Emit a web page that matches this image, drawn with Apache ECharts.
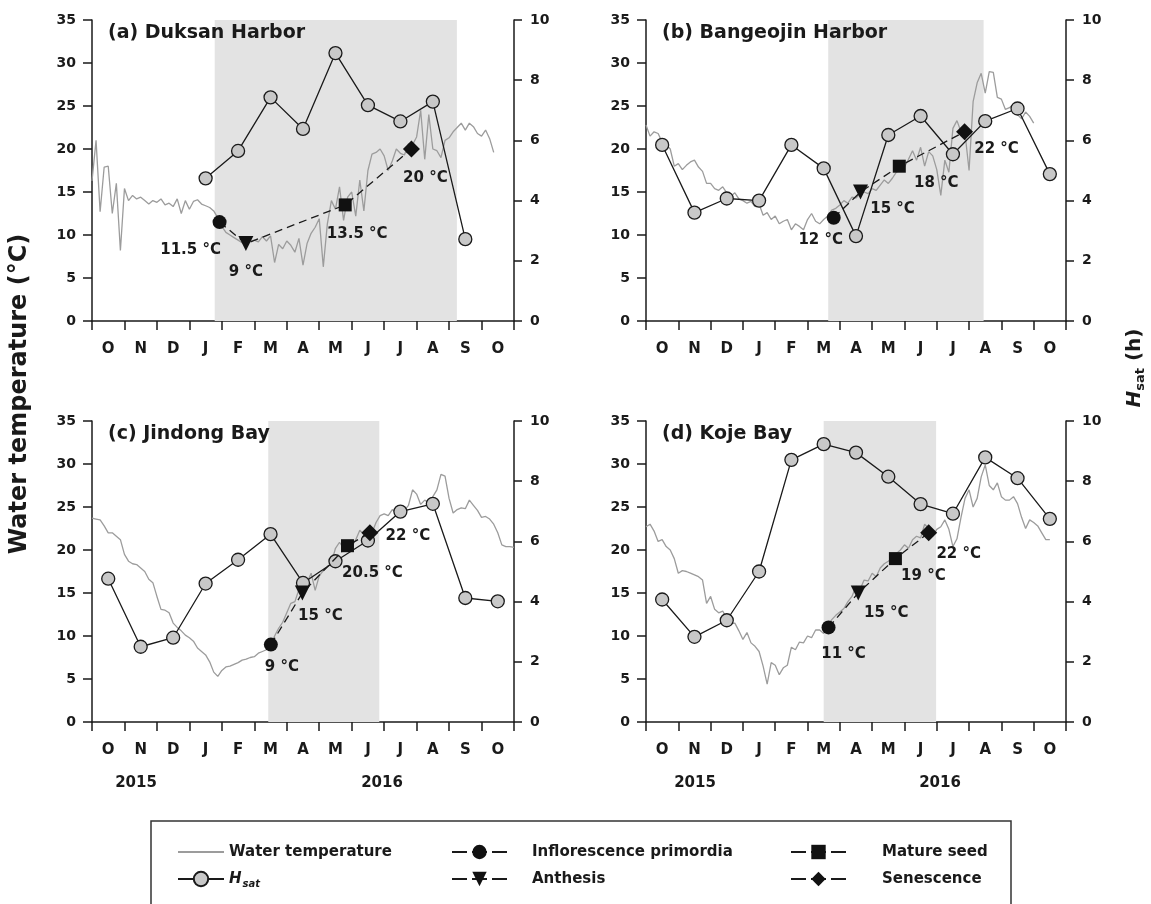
<!DOCTYPE html>
<html><head><meta charset="utf-8">
<script src="https://cdn.jsdelivr.net/npm/echarts@6/dist/echarts.min.js"></script>
<style>html,body{margin:0;padding:0;background:#fff}#c{width:1151px;height:904px}</style>
</head><body><div id="c"></div>
<script>
// ---------- DATA ----------
const months = ['O','N','D','J','F','M','A','M','J','J','A','S','O'];
const years = ['2015','2016'];
const panelTitles = ['(a) Duksan Harbor','(b) Bangeojin Harbor','(c) Jindong Bay','(d) Koje Bay'];
const tempStep = 1/8; // month fraction between successive temperature readings (from 1 Oct 2015)

const tempA = [16.3,21.0,12.7,17.9,18.0,12.5,16.0,8.2,15.4,14.0,
 14.6,14.2,14.4,14.0,13.6,14.0,13.8,14.2,13.5,13.7,
 13.3,14.2,12.5,14.0,13.0,13.9,14.1,13.6,13.4,13.2,
 12.8,12.0,11.0,10.3,10.0,9.7,9.4,9.1,9.0,9.3,
 9.4,9.2,9.8,9.3,9.9,6.8,8.9,8.4,9.3,8.8,
 8.0,9.6,6.5,9.0,10.2,10.9,11.9,6.3,11.3,14.0,
 13.0,15.6,11.7,14.4,15.0,12.2,16.4,12.8,17.5,19.4,
 19.6,20.0,19.2,17.5,18.6,20.0,19.5,19.3,20.6,20.5,
 21.4,24.5,18.8,24.0,20.0,19.8,19.0,21.0,21.3,22.0,
 22.5,23.0,22.2,23.0,22.6,21.8,21.5,22.2,21.2,19.6];
const tempB = [22.8,21.5,22.0,21.8,20.8,20.5,20.0,18.0,18.3,17.6,
 18.1,18.5,18.7,17.9,17.4,16.0,16.0,15.4,15.2,15.6,
 14.9,14.5,14.9,14.2,14.0,13.7,13.9,13.3,13.6,12.3,
 12.6,11.8,12.2,11.3,11.6,11.8,10.6,11.3,11.0,10.6,
 11.8,12.5,11.6,11.3,11.8,12.2,12.9,13.1,13.5,14.0,
 13.7,14.4,14.3,14.8,15.0,14.8,15.4,15.2,15.8,16.4,
 16.0,16.6,17.3,17.6,17.9,18.8,19.8,18.7,20.2,18.0,
 19.7,19.2,17.6,14.6,18.7,17.3,22.4,23.3,22.0,21.8,
 17.5,25.5,27.7,28.8,26.5,29.0,28.9,26.0,25.8,24.6,
 24.8,25.2,24.0,23.5,24.3,23.8,23.0];
const tempC = [23.7,23.6,23.5,22.8,22.0,22.0,21.6,21.2,19.5,18.7,
 18.4,18.3,17.9,17.5,16.6,16.2,14.6,13.1,13.0,12.7,
 11.5,11.0,10.6,10.1,9.8,9.4,8.6,8.2,7.8,7.0,
 5.8,5.3,6.0,6.4,6.5,6.7,6.9,7.2,7.3,7.5,
 7.6,8.0,8.2,8.4,8.8,10.0,10.9,11.6,12.7,13.8,
 14.0,15.4,15.8,16.2,17.3,15.3,17.0,17.6,18.0,18.5,
 20.2,20.9,20.2,20.8,20.4,21.2,22.3,21.8,21.6,22.0,
 23.2,24.0,24.2,24.0,24.7,24.3,24.8,24.6,25.2,27.0,
 26.5,25.3,25.8,25.5,26.2,27.0,28.8,28.6,26.0,24.3,
 24.7,24.9,24.8,25.8,25.2,24.6,23.8,23.9,23.6,23.0,
 22.0,20.6,20.4,20.4,20.3];
const tempD = [22.7,23.0,22.2,21.0,21.2,20.4,20.0,19.0,17.3,17.6,
 17.5,17.3,17.1,16.9,16.5,13.8,14.6,13.1,12.7,12.9,
 12.0,11.4,11.5,10.6,9.6,10.4,9.2,8.8,8.2,6.5,
 4.4,6.9,6.6,5.5,6.3,6.6,8.7,8.4,9.3,9.2,
 10.0,9.8,10.7,10.7,10.3,11.1,11.9,12.4,12.8,13.2,
 14.0,14.6,15.8,15.4,16.5,16.4,17.3,16.9,17.9,18.4,
 18.7,19.1,19.6,20.0,20.6,20.2,21.2,21.6,21.4,23.0,
 22.5,21.6,22.4,22.7,23.5,22.4,20.4,21.3,23.8,26.0,
 27.0,25.0,26.0,28.5,29.9,27.5,27.0,27.8,26.2,25.8,
 25.8,26.2,25.4,23.8,22.5,23.5,23.2,22.8,22.0,21.2,
 21.2];

// Hsat (h), one value per month (mid-month), null = no measurement
const hsatA = [null,null,null,4.74,5.65,7.43,6.38,8.90,7.17,6.63,7.29,2.72,null];
const hsatB = [5.85,3.60,4.07,4.00,5.85,5.07,2.82,6.18,6.81,5.54,6.64,7.06,4.88];
const hsatC = [4.76,2.50,2.80,4.60,5.39,6.24,4.62,5.34,6.03,6.99,7.25,4.12,4.01];
const hsatD = [4.07,2.83,3.38,5.00,8.71,9.23,8.95,8.15,7.24,6.92,8.79,8.10,6.75];

// shaded growth period (month position from 1 Oct 2015)
const shadeA = [3.78, 11.24];
const shadeB = [5.64, 10.45];
const shadeC = [5.43, 8.85];
const shadeD = [5.50, 8.98];

// phenology: inflorescence primordia, anthesis, mature seed, senescence
const phenNames = ['Inflorescence primordia','Anthesis','Mature seed','Senescence'];
const phenMonthA = [3.93, 4.74, 7.80, 9.84];
const phenTempA  = [11.5, 9, 13.5, 20];
const phenMonthB = [5.81, 6.64, 7.84, 9.86];
const phenTempB  = [12, 15, 18, 22];
const phenMonthC = [5.51, 6.48, 7.87, 8.56];
const phenTempC  = [9, 15, 20.5, 22];
const phenMonthD = [5.65, 6.57, 7.72, 8.75];
const phenTempD  = [11, 15, 19, 22];

const tempTicks = {min:0, max:35, interval:5};
const hsatTicks = {min:0, max:10, interval:2};

// ---------- LAYOUT / STYLE ----------
const FONT = 'DejaVu Sans';
const INK = '#1a1a1a';
const grids = [
  {left:92,  top:20,  width:422, height:301},
  {left:646, top:20,  width:420, height:301},
  {left:92,  top:421, width:422, height:301},
  {left:646, top:421, width:420, height:301}
];
const labelOffsets = [
  [[-29,28],[0,29],[12,29],[14,29]],
  [[-13,22],[32,17],[37,17],[32,17]],
  [[11,23],[18,23],[25,27],[38,3]],
  [[15,27],[28,20],[28,18],[30,21]]
];
const phenSymbols = [
  {symbol:'circle', size:14, rotate:0},
  {symbol:'triangle', size:15, rotate:180},
  {symbol:'rect', size:13, rotate:0},
  {symbol:'diamond', size:17, rotate:0}
];

const temps = [tempA, tempB, tempC, tempD];
const hsats = [hsatA, hsatB, hsatC, hsatD];
const shades = [shadeA, shadeB, shadeC, shadeD];
const phenMonths = [phenMonthA, phenMonthB, phenMonthC, phenMonthD];
const phenTemps = [phenTempA, phenTempB, phenTempC, phenTempD];

const axisLineStyle = {color:INK, width:1.5};
const xAxes = [], yAxes = [], series = [], titles = [];

grids.forEach((g, p) => {
  xAxes.push({
    type:'category', gridIndex:p, data:months, boundaryGap:true, position:'bottom',
    axisLine:{show:true, onZero:false, lineStyle:axisLineStyle},
    axisTick:{show:true, interval:0, length:9, inside:false, lineStyle:axisLineStyle},
    axisLabel:{interval:0, margin:21, fontSize:15, fontWeight:'bold', fontFamily:FONT, color:INK},
    splitLine:{show:false}
  });
  xAxes.push({type:'value', gridIndex:p, min:0, max:13, show:false});
  yAxes.push({
    type:'value', gridIndex:p, position:'left', min:tempTicks.min, max:tempTicks.max, interval:tempTicks.interval,
    axisLine:{show:true, onZero:false, lineStyle:axisLineStyle},
    axisTick:{show:true, length:9, inside:false, lineStyle:axisLineStyle},
    axisLabel:{margin:16, fontSize:14, fontWeight:'bold', fontFamily:FONT, color:INK},
    splitLine:{show:false}
  });
  yAxes.push({
    type:'value', gridIndex:p, position:'right', min:hsatTicks.min, max:hsatTicks.max, interval:hsatTicks.interval,
    axisLine:{show:true, onZero:false, lineStyle:axisLineStyle},
    axisTick:{show:true, length:8, inside:false, lineStyle:axisLineStyle},
    axisLabel:{margin:16, fontSize:14, fontWeight:'bold', fontFamily:FONT, color:INK},
    splitLine:{show:false}
  });
  titles.push({
    text:panelTitles[p], left:g.left+16, top:g.top+4, padding:0,
    textStyle:{fontSize:19, fontWeight:'bold', fontFamily:FONT, color:INK}
  });

  const xi = 2*p+1, yl = 2*p, yr = 2*p+1;
  // shaded period
  series.push({
    type:'line', xAxisIndex:xi, yAxisIndex:yl, data:[], silent:true, z:1,
    markArea:{silent:true, itemStyle:{color:'#e3e3e3'},
      data:[[{xAxis:shades[p][0], yAxis:tempTicks.min},{xAxis:shades[p][1], yAxis:tempTicks.max}]]}
  });
  // water temperature
  series.push({
    name:'Water temperature', type:'line', xAxisIndex:xi, yAxisIndex:yl, z:2,
    data: temps[p].map((v,i) => [i*tempStep, v]),
    symbol:'none', lineStyle:{color:'#9c9c9c', width:1.3}, itemStyle:{color:'#9c9c9c'}
  });
  // Hsat
  const hd = [];
  hsats[p].forEach((v,i) => { if (v !== null) hd.push([i+0.5, v]); });
  series.push({
    name:'Hsat', type:'line', xAxisIndex:xi, yAxisIndex:yr, z:3, data:hd,
    symbol:'circle', symbolSize:13, showAllSymbol:true,
    lineStyle:{color:INK, width:1.3},
    itemStyle:{color:'#c8c8c8', borderColor:INK, borderWidth:1.3}
  });
  // dashed phenology connector
  series.push({
    name:'phenology', type:'line', xAxisIndex:xi, yAxisIndex:yl, z:4,
    data: phenMonths[p].map((m,i) => [m, phenTemps[p][i]]),
    symbol:'none', lineStyle:{color:INK, width:1.3, type:[8,5]}
  });
  // phenology markers
  phenNames.forEach((nm, k) => {
    const sy = phenSymbols[k];
    const t = phenTemps[p][k];
    series.push({
      name:nm, type:'line', xAxisIndex:xi, yAxisIndex:yl, z:5,
      symbol:sy.symbol, symbolSize:sy.size, symbolRotate:sy.rotate,
      lineStyle:{color:INK, width:1.5, type:[15,5]},
      itemStyle:{color:'#111'},
      data:[{
        value:[phenMonths[p][k], t],
        label:{show:true, position:'inside', offset:labelOffsets[p][k],
          formatter: t + ' °C', fontSize:15, fontWeight:'bold', fontFamily:FONT, color:INK}
      }]
    });
  });
});

const legendText = {fontSize:15, fontWeight:'bold', fontFamily:FONT, color:INK, lineHeight:18,
  rich:{
    h:{fontSize:15, fontWeight:'bold', fontStyle:'italic', fontFamily:FONT, color:INK},
    s:{fontSize:10, fontWeight:'bold', fontStyle:'italic', fontFamily:FONT, color:INK, padding:[10,0,0,1]}
  }};
const legendFormatter = n => n === 'Hsat' ? '{h|H}{s|sat}' : n;

const option = {
  animation:false,
  backgroundColor:'#ffffff',
  textStyle:{fontFamily:FONT},
  title:titles,
  grid:grids.map(g => Object.assign({containLabel:false, outerBoundsMode:'none'}, g)),
  xAxis:xAxes,
  yAxis:yAxes,
  series:series,
  legend:[
    {left:172, top:838, orient:'vertical', itemWidth:46, itemHeight:18, itemGap:9, selectedMode:false,
      data:[{name:'Water temperature', itemStyle:{opacity:0}}, 'Hsat'], formatter:legendFormatter, textStyle:legendText},
    {left:446, top:838, orient:'vertical', itemWidth:55, itemHeight:18, itemGap:9, selectedMode:false,
      data:['Inflorescence primordia','Anthesis'], textStyle:Object.assign({}, legendText, {padding:[0,0,0,20]})},
    {left:785, top:838, orient:'vertical', itemWidth:55, itemHeight:18, itemGap:9, selectedMode:false,
      data:['Mature seed','Senescence'], textStyle:Object.assign({}, legendText, {padding:[0,0,0,31]})}
  ],
  graphic:[
    {type:'rect', silent:true, shape:{x:151, y:821, width:860, height:100},
      style:{fill:'none', stroke:'#333', lineWidth:1.5}},
    {type:'text', x:20, y:394, rotation:Math.PI/2, silent:true,
      style:{text:'Water temperature (°C)', font:'bold 24px "DejaVu Sans"', fill:INK,
        align:'center', verticalAlign:'middle', textAlign:'center', textVerticalAlign:'middle'}},
    {type:'text', x:1135, y:368, rotation:Math.PI/2, silent:true,
      style:{text:'{h|H}{s|sat}{n| (h)}', fill:INK, align:'center', verticalAlign:'middle',
        textAlign:'center', textVerticalAlign:'middle',
        rich:{
          h:{fontSize:20, fontWeight:'bold', fontStyle:'italic', fontFamily:FONT, fill:INK},
          s:{fontSize:13, fontWeight:'bold', fontFamily:FONT, fill:INK, padding:[12,0,0,0]},
          n:{fontSize:20, fontWeight:'bold', fontFamily:FONT, fill:INK}
        }}},
    {type:'text', x:grids[2].left+44, y:783, silent:true,
      style:{text:years[0], font:'bold 15px "DejaVu Sans"', fill:INK, align:'center', verticalAlign:'middle', textAlign:'center', textVerticalAlign:'middle'}},
    {type:'text', x:grids[2].left+290, y:783, silent:true,
      style:{text:years[1], font:'bold 15px "DejaVu Sans"', fill:INK, align:'center', verticalAlign:'middle', textAlign:'center', textVerticalAlign:'middle'}},
    {type:'text', x:grids[3].left+49, y:783, silent:true,
      style:{text:years[0], font:'bold 15px "DejaVu Sans"', fill:INK, align:'center', verticalAlign:'middle', textAlign:'center', textVerticalAlign:'middle'}},
    {type:'text', x:grids[3].left+294, y:783, silent:true,
      style:{text:years[1], font:'bold 15px "DejaVu Sans"', fill:INK, align:'center', verticalAlign:'middle', textAlign:'center', textVerticalAlign:'middle'}}
  ]
};

const chart = echarts.init(document.getElementById('c'), null, {renderer:'canvas', width:1151, height:904});
chart.setOption(option);
</script>
</body></html>
